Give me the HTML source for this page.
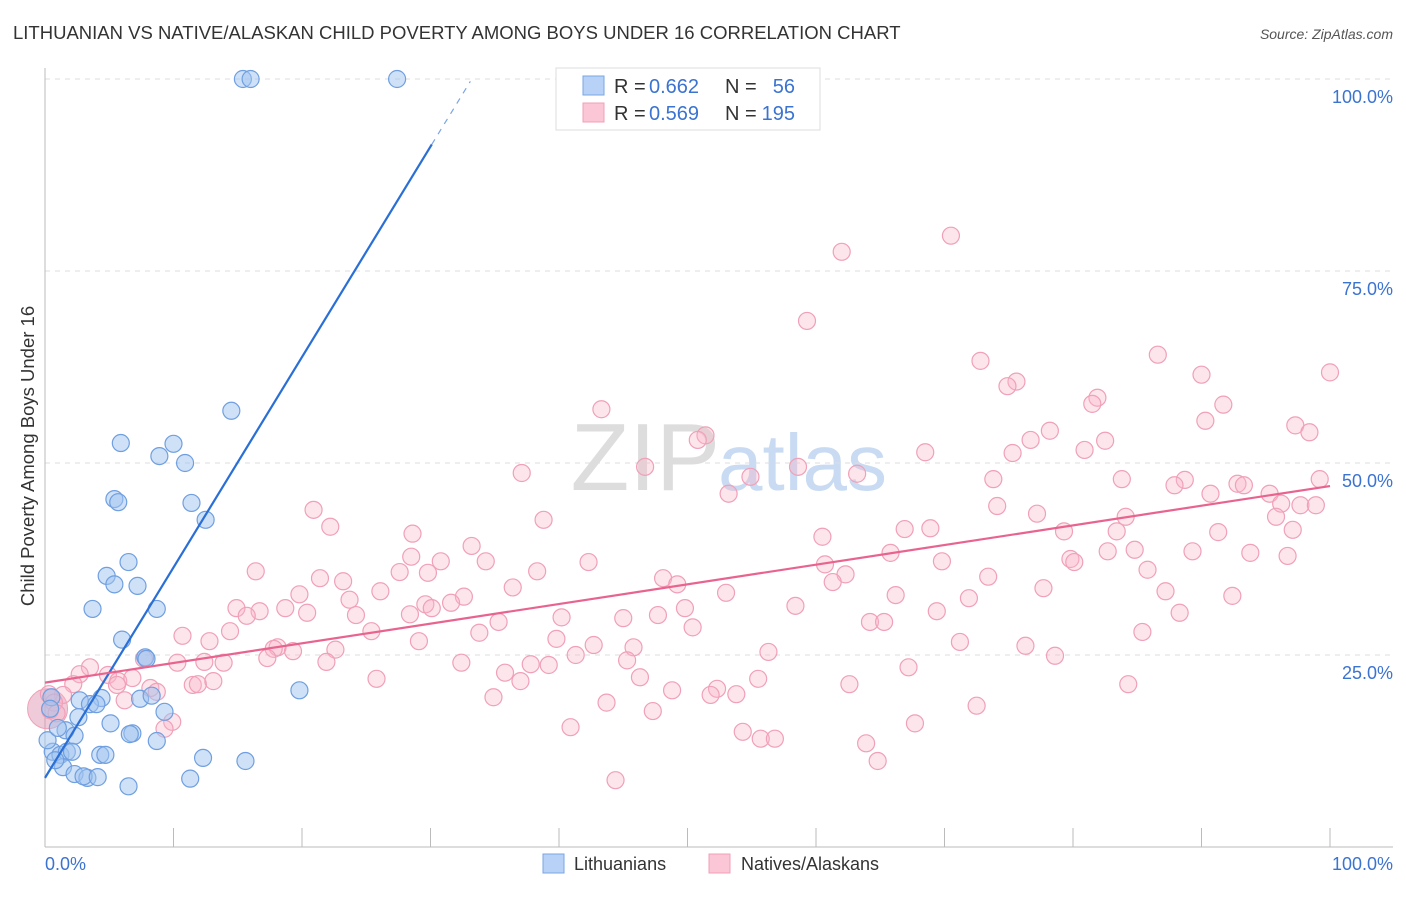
<!DOCTYPE html>
<html><head><meta charset="utf-8"><style>
body{margin:0;background:#fff;font-family:"Liberation Sans",sans-serif;}
svg text{font-family:"Liberation Sans",sans-serif;}
</style></head><body>
<svg id="c" width="1406" height="892" xmlns="http://www.w3.org/2000/svg">
<text x="13" y="39" font-size="18.5" fill="#333">LITHUANIAN VS NATIVE/ALASKAN CHILD POVERTY AMONG BOYS UNDER 16 CORRELATION CHART</text>
<text x="1393" y="39" font-size="14" fill="#555" font-style="italic" text-anchor="end">Source: ZipAtlas.com</text>
<text x="720" y="490" font-size="96" fill="#ddd" text-anchor="end" font-family="Liberation Serif">ZIP</text>
<text x="718" y="490" font-size="80" fill="#c9dbf2">atlas</text>
<text transform="translate(34,456) rotate(-90)" font-size="18.5" fill="#333" text-anchor="middle">Child Poverty Among Boys Under 16</text>
<g id="grid"></g><g id="pink"></g><g id="blue"></g><g id="lines"></g>
<g>
<rect x="556" y="68" width="264" height="62" fill="#fff" stroke="#ddd"/>
<rect x="583" y="76" width="21" height="19" fill="#b7d2f6" stroke="#7aa6e3"/>
<rect x="583" y="103" width="21" height="19" fill="#fbc6d5" stroke="#f0a0b8"/>
<text x="614" y="93" font-size="20" fill="#333">R =</text>
<text x="649" y="93" font-size="20" fill="#3b73d1">0.662</text>
<text x="725" y="93" font-size="20" fill="#333">N =</text>
<text x="795" y="93" font-size="20" fill="#3b73d1" text-anchor="end">56</text>
<text x="614" y="120" font-size="20" fill="#333">R =</text>
<text x="649" y="120" font-size="20" fill="#3b73d1">0.569</text>
<text x="725" y="120" font-size="20" fill="#333">N =</text>
<text x="795" y="120" font-size="20" fill="#3b73d1" text-anchor="end">195</text>
</g>
<g>
<rect x="543" y="854" width="21" height="19" fill="#b7d2f6" stroke="#7aa6e3"/>
<text x="574" y="870" font-size="18" fill="#333">Lithuanians</text>
<rect x="709" y="854" width="21" height="19" fill="#fbc6d5" stroke="#f0a0b8"/>
<text x="741" y="870" font-size="18" fill="#333">Natives/Alaskans</text>
</g>
<text x="45" y="870" font-size="18" fill="#3b73d1">0.0%</text>
<text x="1393" y="870" font-size="18" fill="#3b73d1" text-anchor="end">100.0%</text>
</svg>
<script>
const blueX=[15.4,16.0,27.4,14.5,5.9,10.0,8.9,10.9,5.4,5.7,11.4,12.5,6.5,4.8,5.4,7.2,3.7,8.7,6.0,7.8,19.8,0.5,2.7,4.4,3.5,4.0,7.4,8.3,9.3,2.6,5.1,1.6,2.3,6.8,8.7,0.6,1.2,1.7,2.1,4.3,4.7,12.3,15.6,1.4,2.3,3.3,3.0,4.1,11.3,6.5,0.8,0.2,1.0,6.6,7.9,0.4];
const blueY=[100,100,100,56.8,52.6,52.5,50.9,50.0,45.3,44.9,44.8,42.6,37.1,35.3,34.2,34.0,31.0,31.0,27.0,24.7,20.4,19.5,19.1,19.4,18.6,18.6,19.3,19.7,17.6,16.9,16.1,15.2,14.5,14.8,13.8,12.4,12.0,12.4,12.4,12.0,12.0,11.6,11.2,10.4,9.5,9.0,9.2,9.1,8.9,7.9,11.3,13.9,15.5,14.7,24.5,18.0];
const pinkX=[70.5,62.0,59.3,72.8,86.6,100.0,90.0,75.6,74.9,81.9,81.5,91.7,43.3,90.3,97.3,98.4,78.2,51.4,50.8,76.7,82.5,68.5,80.9,75.3,58.6,46.7,63.2,37.1,54.9,83.8,73.8,88.7,99.2,87.9,92.8,93.3,53.2,90.7,95.3,96.2,97.7,98.9,74.1,20.9,77.2,84.1,95.8,38.8,22.2,66.9,68.9,79.3,91.3,83.4,97.1,28.6,60.5,33.2,65.8,82.7,84.8,89.3,93.8,96.7,28.5,30.8,34.3,42.3,69.8,79.8,80.1,60.7,62.3,85.8,16.4,38.3,27.6,29.8,21.4,23.2,48.1,49.2,73.4,61.3,36.4,77.7,87.2,26.1,19.8,32.6,53.0,66.2,23.7,29.6,31.6,92.4,71.9,14.9,16.7,18.7,20.4,30.1,58.4,49.8,47.7,88.3,69.4,15.7,24.2,28.4,40.2,45.0,35.3,64.2,65.3,50.4,14.4,25.4,33.8,85.4,10.7,12.8,39.8,29.1,42.7,45.8,71.2,76.3,18.1,17.8,19.3,22.6,41.3,56.3,45.3,78.6,7.7,10.3,12.4,13.9,17.3,21.9,32.4,37.8,39.2,67.2,3.5,2.7,4.9,5.7,6.8,35.8,46.3,55.5,25.8,2.2,5.6,37.0,62.6,84.3,11.5,11.9,13.1,8.2,8.7,48.8,52.3,53.8,51.8,1.4,0.3,6.2,34.9,43.7,72.5,0.7,0.4,0.9,47.3,9.9,9.3,67.7,40.9,54.3,55.7,56.8,63.9,64.8,44.4];
const pinkY=[79.6,77.5,68.5,63.3,64.1,61.8,61.5,60.6,60.0,58.5,57.7,57.6,57.0,55.5,54.9,54.0,54.2,53.6,53.0,53.0,52.9,51.4,51.7,51.3,49.5,49.5,48.6,48.7,48.2,47.9,47.9,47.8,47.9,47.1,47.3,47.1,46.0,46.0,46.0,44.7,44.5,44.5,44.4,43.9,43.4,43.0,43.0,42.6,41.7,41.4,41.5,41.1,41.0,41.1,41.3,40.8,40.4,39.2,38.3,38.5,38.7,38.5,38.3,37.9,37.8,37.2,37.2,37.1,37.2,37.5,37.1,36.8,35.5,36.1,35.9,35.9,35.8,35.7,35.0,34.6,35.0,34.2,35.2,34.5,33.8,33.7,33.3,33.3,32.9,32.6,33.1,32.8,32.2,31.6,31.8,32.7,32.4,31.1,30.7,31.1,30.5,31.1,31.4,31.1,30.2,30.5,30.7,30.1,30.2,30.3,29.9,29.8,29.3,29.3,29.3,28.6,28.1,28.1,27.9,28.0,27.5,26.8,27.1,26.8,26.3,26.0,26.7,26.2,26.0,25.8,25.5,25.7,25.0,25.4,24.3,24.9,24.5,24.0,24.1,24.0,24.6,24.1,24.0,23.8,23.7,23.4,23.4,22.5,22.4,21.6,22.0,22.7,22.1,21.9,21.9,21.2,21.1,21.6,21.2,21.2,21.1,21.2,21.6,20.7,20.2,20.4,20.6,19.9,19.8,19.8,19.9,19.1,19.5,18.8,18.4,18.8,17.8,17.4,17.7,16.3,15.4,16.1,15.6,15.0,14.1,14.1,13.5,11.2,8.7];
const yTicks=[25,50,75,100];
const xTicks=[0,10,20,30,40,50,60,70,80,90,100];
const blueFit=[9.0,2.74];
const pinkFit=[21.4,0.256];
const NS='http://www.w3.org/2000/svg';
const X=v=>45+v*12.85, Y=v=>847-v*7.68;
function mk(t,a,p){const e=document.createElementNS(NS,t);for(const k in a)e.setAttribute(k,a[k]);p.appendChild(e);return e;}
const g=document.getElementById('grid');
yTicks.forEach(t=>{
 const l=mk('line',{x1:45,x2:1393,y1:Y(t),y2:Y(t),stroke:'#ddd','stroke-dasharray':'5,5'},g);
 
 
 const tx=mk('text',{x:1393,y:Y(t)+24,'font-size':18,fill:'#3b73d1','text-anchor':'end'},g);
 tx.textContent=t.toFixed(1)+'%';
 
 
});
const ax=mk('line',{x1:45,x2:45,y1:68,y2:847,stroke:'#bbb'},g);


const bx=mk('line',{x1:45,x2:1393,y1:847,y2:847,stroke:'#bbb'},g);


xTicks.forEach(t=>{
 const l=mk('line',{x1:X(t),x2:X(t),y1:828,y2:847,stroke:'#bbb'},g);
 
 
});
const pg=document.getElementById('pink');
const big=mk('circle',{cx:X(0.2),cy:Y(18),r:20,fill:'rgba(220,140,170,0.45)',stroke:'#f0a0b8'},pg);


pinkX.forEach((v,i)=>{
 const c=mk('circle',{cx:X(v),cy:Y(pinkY[i]),r:8.5,fill:'rgba(248,180,200,0.35)',stroke:'#f0a0b8','stroke-width':1.2},pg);
 
 
});
const bg=document.getElementById('blue');
blueX.forEach((v,i)=>{
 const c=mk('circle',{cx:X(v),cy:Y(blueY[i]),r:8.5,fill:'rgba(160,196,240,0.5)',stroke:'#6f9fe0','stroke-width':1.2},bg);
 
 
});
const lg=document.getElementById('lines');
const bf=x=>blueFit[0]+blueFit[1]*x, pf=x=>pinkFit[0]+pinkFit[1]*x;
const l1=mk('line',{x1:X(0),y1:Y(bf(0)),x2:X(30.1),y2:Y(bf(30.1)),stroke:'#2a6fd6','stroke-width':2.2},lg);


const l2=mk('line',{x1:X(30.1),y1:Y(bf(30.1)),x2:X(33.1),y2:Y(bf(33.1)),stroke:'#7aa6e3','stroke-width':1.2,'stroke-dasharray':'6,6'},lg);


const l3=mk('line',{x1:X(0),y1:Y(pf(0)),x2:X(100),y2:Y(pf(100)),stroke:'#e8648f','stroke-width':2.2},lg);


</script>
</body></html>
